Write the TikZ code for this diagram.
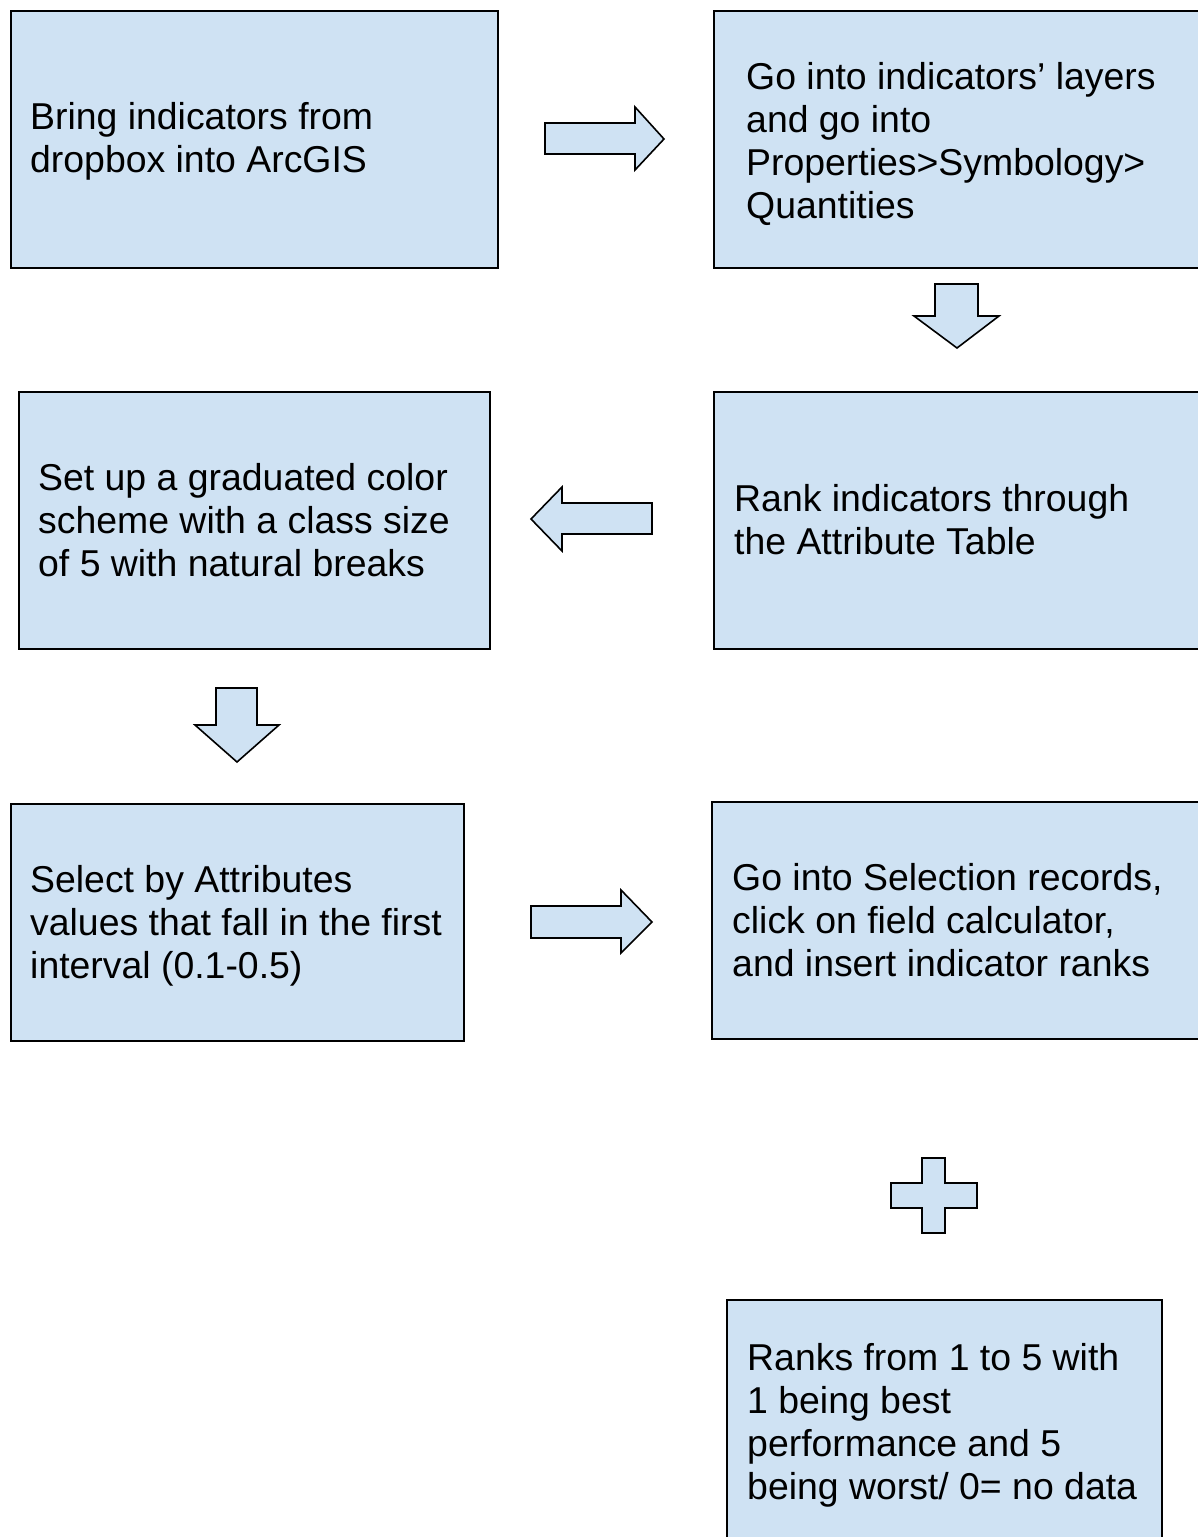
\documentclass[tikz,border=0pt]{standalone}
\usepackage{fontspec}
\setmainfont{Liberation Sans}
\usetikzlibrary{positioning}
\definecolor{boxblue}{HTML}{CFE2F3}

\tikzset{
  stepbox/.style={draw=black, line width=1.6pt, fill=boxblue,
    anchor=north west, inner sep=0pt},
  steptext/.style={align=left, inner sep=0pt,
    font=\fontsize{37.4}{43}\selectfont},
  blockarrow/.style={draw=black, line width=1.6pt, fill=boxblue,
    line join=miter},
}

\begin{document}
\begin{tikzpicture}[x=1pt, y=-1pt]
    \useasboundingbox (0,0) rectangle (1198,1537);
    \clip (0,0) rectangle (1198,1537);

    % step boxes
    \node[stepbox, minimum width=487pt, minimum height=257pt]
      (bringbox) at (10,10) {};
    \node[stepbox, minimum width=497pt, minimum height=257pt]
      (layerbox) at (713,10) {};
    \node[stepbox, minimum width=497pt, minimum height=257pt]
      (rankbox) at (713,391) {};
    \node[stepbox, minimum width=471pt, minimum height=257pt]
      (schemebox) at (18,391) {};
    \node[stepbox, minimum width=453pt, minimum height=237pt]
      (selectbox) at (10,803) {};
    \node[stepbox, minimum width=499pt, minimum height=237pt]
      (fieldbox) at (711,801) {};
    \node[stepbox, minimum width=435pt, minimum height=246pt]
      (legendbox) at (726,1299) {};

    % texts
    \node[steptext, right=20pt of bringbox.west, yshift=-2pt] (bringtext)
      {Bring indicators from\\dropbox into ArcGIS};
    \node[steptext, right=33pt of layerbox.west, yshift=-5pt] (layertext)
      {Go into indicators’ layers\\and go into\\Properties>Symbology>\\Quantities};
    \node[steptext, right=21pt of rankbox.west, yshift=1pt] (ranktext)
      {Rank indicators through\\the Attribute Table};
    \node[steptext, right=20pt of schemebox.west] (schemetext)
      {Set up a graduated color\\scheme with a class size\\of 5 with natural breaks};
    \node[steptext, right=20pt of selectbox.west, yshift=-4pt] (selecttext)
      {Select by Attributes\\values that fall in the first\\interval (0.1-0.5)};
    \node[steptext, right=21pt of fieldbox.west] (fieldtext)
      {Go into Selection records,\\click on field calculator,\\and insert indicator ranks};
    \node[steptext, right=21pt of legendbox.west, yshift=-3pt] (legendtext)
      {Ranks from 1 to 5 with\\1 being best\\performance and 5\\being worst/ 0= no data};

    % block arrows
    \draw[blockarrow] (545,123) -- (635,123) -- (635,107) -- (664,139)
      -- (635,170) -- (635,154) -- (545,154) -- cycle;
    \draw[blockarrow] (935,284) -- (978,284) -- (978,316) -- (999,316)
      -- (957,348) -- (914,316) -- (935,316) -- cycle;
    \draw[blockarrow] (652,503) -- (652,534) -- (562,534) -- (562,551)
      -- (531,519) -- (562,487) -- (562,503) -- cycle;
    \draw[blockarrow] (216,688) -- (257,688) -- (257,725) -- (279,725)
      -- (237,762) -- (195,725) -- (216,725) -- cycle;
    \draw[blockarrow] (531,906) -- (621,906) -- (621,890) -- (652,922)
      -- (621,953) -- (621,938) -- (531,938) -- cycle;

    % plus sign
    \draw[blockarrow] (922,1158) -- (945,1158) -- (945,1183) -- (977,1183)
      -- (977,1208) -- (945,1208) -- (945,1233) -- (922,1233)
      -- (922,1208) -- (891,1208) -- (891,1183) -- (922,1183) -- cycle;
\end{tikzpicture}
\end{document}
